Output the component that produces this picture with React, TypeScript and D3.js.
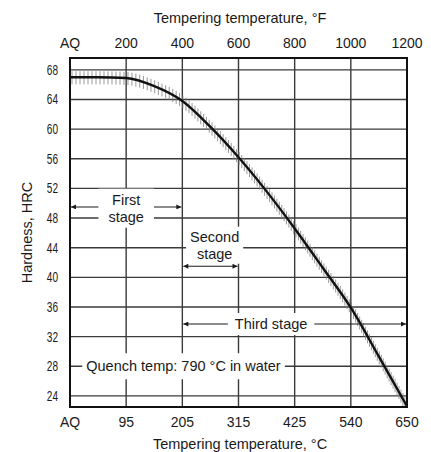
import React, { useEffect, useRef } from "react";
import * as d3 from "d3";

// hardness curve, x in °F (top scale), AQ = 0
const tempF = [0, 100, 200, 300, 400, 500, 600, 700, 800, 900, 1000, 1100, 1200];
const hardness = [67, 67, 66.9, 65.8, 63.8, 60.3, 56.2, 51.6, 46.6, 41.3, 35.9, 29.3, 22.6];

const ticksF = [0, 200, 400, 600, 800, 1000, 1200];
const labelsF = ["AQ", "200", "400", "600", "800", "1000", "1200"];
const labelsC = ["AQ", "95", "205", "315", "425", "540", "650"];
const ticksHRC = [24, 28, 32, 36, 40, 44, 48, 52, 56, 60, 64, 68];

// stage arrows (°F from/to, HRC level) and their labels
const stageFrom = [0, 400, 400];
const stageTo = [400, 600, 1200];
const stageAt = [49.5, 41.5, 33.7];
const stageText = [["First", "stage"], ["Second", "stage"], ["Third stage"]];
const stageTextF = [200, 515, 716];
const stageTextHRC = [49.4, 44.4, 33.7];

const note = "Quench temp: 790 °C in water";
const noteF = 404;
const noteHRC = 28;

export default function App() {
    const svgRef = useRef<SVGSVGElement>(null);

    useEffect(() => {
        const svg = d3.select(svgRef.current);
        svg.selectAll("*").remove();

        const font = "'Liberation Sans', Arial, sans-serif";
        const ink = "#1a1a1a";

        const x = d3.scaleLinear().domain([0, 1200]).range([70, 407]);
        const y = d3.scaleLinear().domain([22.5, 69.6]).range([407, 58]);
        const [x0, x1] = x.range();
        const [y0, y1] = y.range(); // y0 bottom, y1 top

        svg.append("rect").attr("width", 431).attr("height", 452).attr("fill", "#fff");

        const defs = svg.append("defs");
        defs.append("marker")
            .attr("id", "arr")
            .attr("viewBox", "0 0 10 10")
            .attr("refX", 10)
            .attr("refY", 5)
            .attr("markerWidth", 7)
            .attr("markerHeight", 5)
            .attr("markerUnits", "userSpaceOnUse")
            .attr("orient", "auto-start-reverse")
            .append("path")
            .attr("d", "M0,0L10,5L0,10z")
            .attr("fill", ink);

        // grid
        const grid = svg.append("g").attr("stroke", "#3a3a3a").attr("stroke-width", 1.4);
        grid.selectAll("line.v")
            .data(ticksF.slice(1, -1))
            .join("line")
            .attr("class", "v")
            .attr("x1", (d) => x(d))
            .attr("x2", (d) => x(d))
            .attr("y1", y1)
            .attr("y2", y0);
        grid.selectAll("line.h")
            .data(ticksHRC)
            .join("line")
            .attr("class", "h")
            .attr("x1", x0)
            .attr("x2", x1)
            .attr("y1", (d) => y(d))
            .attr("y2", (d) => y(d));

        // scatter hatching + curve
        const hatch = svg.append("g").attr("stroke", "#7a7a7a").attr("stroke-width", 0.9).attr("opacity", 0.85);
        const myLine = d3.line<number>()
            .x((d, i) => x(tempF[i]))
            .y((d) => y(d))
            .curve(d3.curveMonotoneX);
        const path = svg.append("path")
            .datum(hardness)
            .attr("d", myLine)
            .attr("fill", "none")
            .attr("stroke", "#111")
            .attr("stroke-width", 2.4);
        const node = path.node() as SVGPathElement;
        const len = node.getTotalLength();
        const pts = d3.range(2, len - 2, 4).map((l) => node.getPointAtLength(l));
        hatch.selectAll("line")
            .data(pts)
            .join("line")
            .attr("x1", (p) => p.x)
            .attr("x2", (p) => p.x)
            .attr("y1", (p) => p.y - 6)
            .attr("y2", (p) => Math.min(p.y + 7, y0));

        // stage arrows
        svg.append("g")
            .selectAll("line")
            .data(stageAt)
            .join("line")
            .attr("x1", (d, i) => x(stageFrom[i]) + 1)
            .attr("x2", (d, i) => x(stageTo[i]) - 1)
            .attr("y1", (d) => y(d))
            .attr("y2", (d) => y(d))
            .attr("stroke", ink)
            .attr("stroke-width", 1.1)
            .attr("marker-start", "url(#arr)")
            .attr("marker-end", "url(#arr)");

        // labels on a white patch
        const label = (lines: string[], cx: number, cy: number, padX: number, padY: number) => {
            const g = svg.append("g");
            const t = g.append("text")
                .attr("text-anchor", "middle")
                .attr("font-family", font)
                .attr("font-size", 14.5)
                .attr("fill", ink);
            lines.forEach((s, i) => {
                const dy = lines.length === 1 ? 5 : i === 0 ? -3 : 14;
                t.append("tspan").attr("x", cx).attr("y", cy + dy).text(s);
            });
            const b = (t.node() as SVGTextElement).getBBox();
            g.insert("rect", () => t.node())
                .attr("x", b.x - padX)
                .attr("y", b.y - padY)
                .attr("width", b.width + 2 * padX)
                .attr("height", b.height + 2 * padY)
                .attr("fill", "#fff");
        };
        const pads = [[10, 3], [4, 2], [7, 3]];
        stageText.forEach((lines, i) => label(lines, x(stageTextF[i]), y(stageTextHRC[i]), pads[i][0], pads[i][1]));
        label([note], x(noteF), y(noteHRC), 4, 5);

        // frame
        svg.append("rect")
            .attr("x", x0)
            .attr("y", y1)
            .attr("width", x1 - x0)
            .attr("height", y0 - y1)
            .attr("fill", "none")
            .attr("stroke", "#111")
            .attr("stroke-width", 2);

        // axis labels
        const txt = svg.append("g").attr("font-family", font).attr("fill", ink);
        txt.selectAll("text.top")
            .data(ticksF)
            .join("text")
            .attr("class", "top")
            .attr("x", (d) => x(d))
            .attr("y", 48)
            .attr("text-anchor", "middle")
            .attr("font-size", 14)
            .text((d, i) => labelsF[i]);
        txt.selectAll("text.bot")
            .data(ticksF)
            .join("text")
            .attr("class", "bot")
            .attr("x", (d) => x(d))
            .attr("y", 427)
            .attr("text-anchor", "middle")
            .attr("font-size", 14)
            .text((d, i) => labelsC[i]);
        txt.selectAll("text.left")
            .data(ticksHRC)
            .join("text")
            .attr("class", "left")
            .attr("transform", (d) => `translate(58,${y(d) + 5}) scale(0.72,1)`)
            .attr("text-anchor", "end")
            .attr("font-size", 14)
            .text((d) => d);

        txt.append("text")
            .attr("x", 240)
            .attr("y", 23)
            .attr("text-anchor", "middle")
            .attr("font-size", 14.5)
            .text("Tempering temperature, °F");
        txt.append("text")
            .attr("x", 240)
            .attr("y", 449)
            .attr("text-anchor", "middle")
            .attr("font-size", 14.5)
            .text("Tempering temperature, °C");
        txt.append("text")
            .attr("transform", `translate(32,${(y0 + y1) / 2}) rotate(-90)`)
            .attr("text-anchor", "middle")
            .attr("font-size", 14.5)
            .text("Hardness, HRC");
    }, []);

    return (
        <svg
            ref={svgRef}
            xmlns="http://www.w3.org/2000/svg"
            width="431"
            height="452"
            viewBox="0 0 431 452"
            style={{ position: "absolute", left: 0, top: 0 }}
        ></svg>
    );
}
